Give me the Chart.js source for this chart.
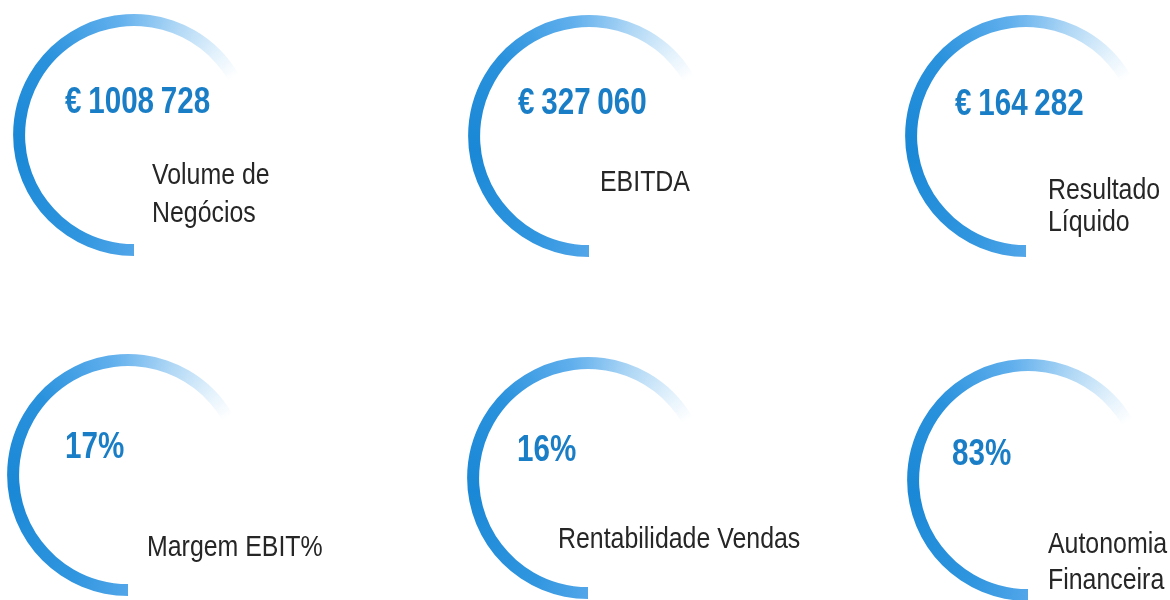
<!DOCTYPE html>
<html lang="pt">
<head>
<meta charset="utf-8">
<title>Indicadores</title>
<script src="https://cdn.jsdelivr.net/npm/chart.js@4.4.1/dist/chart.umd.min.js"></script>
<style>
    html, body { margin: 0; padding: 0; background: #fff; }
    #board { position: relative; width: 1170px; height: 600px; overflow: hidden; }
    #board canvas { position: absolute; }
    .txt {
        position: absolute; white-space: nowrap; line-height: 1;
        transform-origin: 0 50%;
        font-family: "Liberation Sans", Arial, sans-serif;
    }
    .val { font-weight: bold; font-size: 37px; color: #1a7ec7; transform: scaleX(.8); word-spacing: -0.05em; }
    .lbl { font-size: 30px; color: #262626; transform: scaleX(.83); }
</style>
</head>
<body>
<div id="board"></div>
<script>
    "use strict";

    // indicator values and captions
    var values = ["€ 1008 728", "€ 327 060", "€ 164 282", "17%", "16%", "83%"];
    var captions = [
        ["Volume de", "Negócios"],
        ["EBITDA"],
        ["Resultado", "Líquido"],
        ["Margem EBIT%"],
        ["Rentabilidade Vendas"],
        ["Autonomia", "Financeira"]
    ];
    // sweep of each decorative ring, degrees (same on every tile)
    var arcSweep = [240, 240, 240, 240, 240, 240];

    // layout (pixels)
    var ringCenter = [[134, 135], [589, 136], [1026, 136], [128, 475], [588, 478], [1028, 480]];
    var valuePos = [[65, 100], [518, 101], [955, 102], [65, 445], [517, 448], [952, 452]];
    var captionPos = [
        [[152, 173], [152, 211]],
        [[600, 180]],
        [[1048, 188], [1048, 220]],
        [[147, 545]],
        [[558, 537]],
        [[1048, 542], [1048, 578]]
    ];
    var RADIUS = 121, THICK = 12, VAL_FS = 37, LBL_FS = 30;

    var board = document.getElementById("board");

    function addText(cls, text, x, cy, fs) {
        var d = document.createElement("div");
        d.className = "txt " + cls;
        d.textContent = text;
        d.style.left = x + "px";
        d.style.top = (cy - 0.482 * fs) + "px";
        board.appendChild(d);
    }

    // conic fade: strong blue at the left, fading out past the top
    var arcGradient = {
        id: "arcGradient",
        beforeDatasetDraw: function (chart) {
            var ctx = chart.ctx;
            chart.getDatasetMeta(0).data.forEach(function (arc) {
                var g = ctx.createConicGradient(arc.startAngle, arc.x, arc.y);
                var span = (arc.endAngle - arc.startAngle) / (2 * Math.PI);
                g.addColorStop(0, "#52a6e9");
                g.addColorStop(span * 0.12, "#2f95df");
                g.addColorStop(span * 0.35, "#1a88d6");
                g.addColorStop(span * 0.55, "#2a92dd");
                g.addColorStop(span * 0.72, "#62b0ed");
                g.addColorStop(span * 0.84, "#afd7f5");
                g.addColorStop(span * 0.94, "#e4f2fc");
                g.addColorStop(span, "#ffffff");
                g.addColorStop(1, "#ffffff");
                arc.options.backgroundColor = g;
            });
        }
    };

    values.forEach(function (v, i) {
        var canvas = document.createElement("canvas");
        canvas.width = 280;
        canvas.height = 280;
        board.appendChild(canvas);

        var chart = new Chart(canvas.getContext("2d"), {
            type: "doughnut",
            data: {
                labels: [captions[i].join(" ")],
                datasets: [{ data: [1], borderWidth: 0, backgroundColor: "#1a88d6" }]
            },
            options: {
                responsive: false,
                animation: false,
                events: [],
                rotation: 180,
                circumference: arcSweep[i],
                radius: RADIUS,
                cutout: ((RADIUS - THICK) / RADIUS * 100) + "%",
                plugins: { legend: { display: false }, tooltip: { enabled: false } }
            },
            plugins: [arcGradient]
        });

        var arc = chart.getDatasetMeta(0).data[0];
        canvas.style.left = (ringCenter[i][0] - arc.x) + "px";
        canvas.style.top = (ringCenter[i][1] - arc.y) + "px";

        addText("val", v, valuePos[i][0], valuePos[i][1], VAL_FS);
        captions[i].forEach(function (line, k) {
            addText("lbl", line, captionPos[i][k][0], captionPos[i][k][1], LBL_FS);
        });
    });
</script>
</body>
</html>
